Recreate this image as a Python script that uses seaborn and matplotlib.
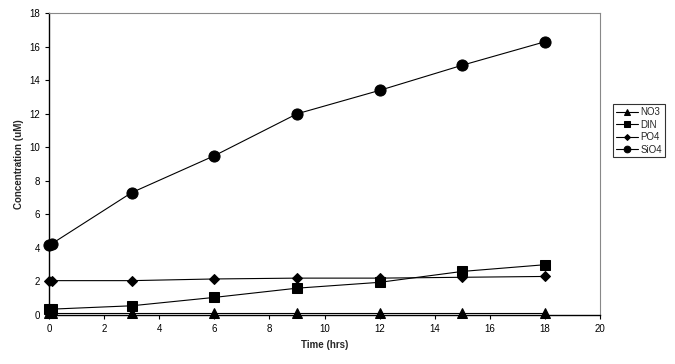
import pandas as pd
import matplotlib
matplotlib.use("Agg")
import matplotlib.pyplot as plt
import seaborn as sns

time_hrs = [0, 0.1, 3, 6, 9, 12, 15, 18]
no3 = [0.1, 0.1, 0.1, 0.1, 0.1, 0.1, 0.1, 0.1]
din = [0.35, 0.35, 0.55, 1.05, 1.6, 1.95, 2.6, 3.0]
po4 = [2.05, 2.05, 2.05, 2.15, 2.2, 2.2, 2.25, 2.3]
sio4 = [4.2, 4.25, 7.3, 9.5, 12.0, 13.4, 14.9, 16.3]
series_names = ['NO3', 'DIN', 'PO4', 'SiO4']

rows = []
for name, vals in zip(series_names, [no3, din, po4, sio4]):
    for t, v in zip(time_hrs, vals):
        rows.append({'time': t, 'conc': v, 'nutrient': name})
df = pd.DataFrame(rows)

sns.set_style("white")
plt.rcParams['font.family'] = ['Liberation Sans', 'DejaVu Sans']

fig = plt.figure(figsize=(6.75, 3.64), dpi=100)
ax = fig.add_axes([0.0726, 0.1346, 0.8164, 0.829])

markers = {'NO3': '^', 'DIN': 's', 'PO4': 'D', 'SiO4': 'o'}
sizes = {'NO3': 7, 'DIN': 7, 'PO4': 5, 'SiO4': 8}
for name in series_names:
    sub = df[df['nutrient'] == name]
    sns.lineplot(data=sub, x='time', y='conc', ax=ax, color='black', linewidth=0.8,
                 marker=markers[name], markersize=sizes[name], markeredgecolor='black',
                 label=name, estimator=None, sort=False, clip_on=False)

ax.set_xlim(0, 20)
ax.set_ylim(0, 18)
ax.set_xticks(range(0, 21, 2))
ax.set_yticks(range(0, 19, 2))
ax.tick_params(axis='both', labelsize=7, length=3, direction='out', colors='black',
               bottom=True, left=True)
ax.set_xlabel('Time (hrs)', fontsize=7, fontweight='bold')
ax.set_ylabel('Concentration (uM)', fontsize=7, fontweight='bold')

for side in ['left', 'bottom']:
    ax.spines[side].set_color('black')
    ax.spines[side].set_linewidth(1.0)
for side in ['top', 'right']:
    ax.spines[side].set_color('#888888')
    ax.spines[side].set_linewidth(0.8)

leg = ax.legend(loc='center left', bbox_to_anchor=(1.015, 0.61), fontsize=7,
                frameon=True, fancybox=False, edgecolor='black', handlelength=2.2,
                borderpad=0.3, labelspacing=0.25, handletextpad=0.3, markerscale=0.6)
leg.get_frame().set_linewidth(0.8)

fig.savefig('out.png', dpi=100)
